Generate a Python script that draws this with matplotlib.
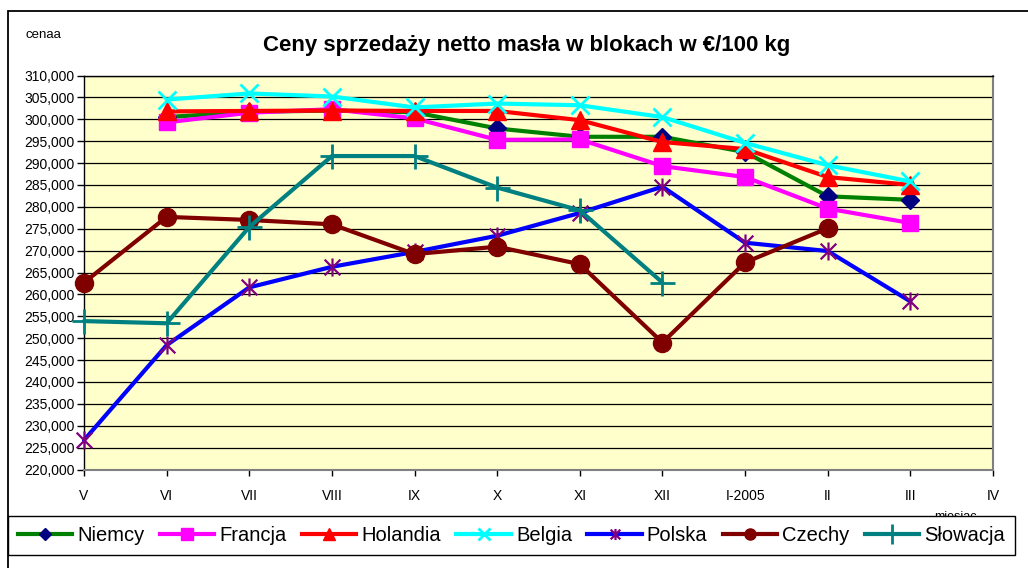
import numpy as np
import matplotlib
matplotlib.use("Agg")
import matplotlib.pyplot as plt
from matplotlib.lines import Line2D
from matplotlib.path import Path
from matplotlib.patches import Rectangle

plt.rcParams['font.family'] = ['Liberation Sans', 'DejaVu Sans']

nan = np.nan
months = ["V", "VI", "VII", "VIII", "IX", "X", "XI", "XII", "I-2005", "II", "III", "IV"]

niemcy   = [nan, 300.5, 301.7, 302.0, 301.6, 297.9, 296.0, 296.0, 292.5, 282.4, 281.6, nan]
francja  = [nan, 299.3, 301.5, 302.3, 300.2, 295.3, 295.4, 289.3, 286.8, 279.6, 276.3, nan]
holandia = [nan, 301.8, 301.9, 302.0, 301.9, 301.9, 299.8, 294.8, 293.2, 286.8, 285.0, nan]
belgia   = [nan, 304.5, 305.9, 305.2, 302.7, 303.6, 303.2, 300.5, 294.6, 289.5, 285.8, nan]
polska   = [226.7, 248.4, 261.6, 266.3, 269.7, 273.4, 278.6, 284.6, 271.8, 269.9, 258.4, nan]
czechy   = [262.7, 277.7, 277.0, 276.0, 269.2, 270.9, 266.9, 249.0, 267.3, 275.1, nan, nan]
slowacja = [253.9, 253.4, 275.4, 291.6, 291.6, 284.4, 279.2, 262.7, nan, nan, nan, nan]

series_names = ["Niemcy", "Francja", "Holandia", "Belgia", "Polska", "Czechy", "Słowacja"]
series_values = [niemcy, francja, holandia, belgia, polska, czechy, slowacja]

ymin, ymax, ystep = 220, 310, 5

# asterisk marker: x plus vertical bar
ast = Path([(-1, -1), (1, 1), (-1, 1), (1, -1), (0, -1.15), (0, 1.15)],
           [Path.MOVETO, Path.LINETO, Path.MOVETO, Path.LINETO, Path.MOVETO, Path.LINETO])

styles = [
    dict(color='#008000', marker='D', mfc='#000080', mec='#000080', ms=9, mew=1, lms=6),
    dict(color='#FF00FF', marker='s', mfc='#FF00FF', mec='#FF00FF', ms=12, mew=1, lms=8),
    dict(color='#FF0000', marker='^', mfc='#FF0000', mec='#FF0000', ms=13, mew=1, lms=9),
    dict(color='#00FFFF', marker='x', mfc='none', mec='#00FFFF', ms=13, mew=2, lms=9),
    dict(color='#0000FF', marker=ast, mfc='none', mec='#800080', ms=13, mew=1.6, lms=8),
    dict(color='#800000', marker='o', mfc='#800000', mec='#800000', ms=13, mew=1, lms=8),
    dict(color='#008080', marker='+', mfc='none', mec='#008080', ms=18, mew=2, lms=14),
]

fig = plt.figure(figsize=(10.28, 5.68), dpi=100)
W, H = 1028, 568
ax = fig.add_axes([84 / W, 1 - 469.5 / H, (993 - 84) / W, (469.5 - 75.5) / H])
ax.set_facecolor('#FFFFCC')

x = np.arange(len(months))
handles = []
for i, (name, vals, st) in enumerate(zip(series_names, series_values, styles)):
    v = np.asarray(vals, float)
    ok = ~np.isnan(v)
    xs, ys = x[ok], v[ok]
    z = 3 + i * 0.1
    ax.plot(xs, ys, color=st['color'], lw=3, solid_capstyle='round', solid_joinstyle='round',
            zorder=z, clip_on=False)
    ax.plot(xs, ys, linestyle='none', marker=st['marker'], markersize=st['ms'],
            markerfacecolor=st['mfc'], markeredgecolor=st['mec'], markeredgewidth=st['mew'],
            zorder=z + 0.05, clip_on=False)
    handles.append(Line2D([], [], color=st['color'], lw=3, marker=st['marker'], markersize=st['lms'],
                          markerfacecolor=st['mfc'], markeredgecolor=st['mec'],
                          markeredgewidth=st['mew']))

ax.set_xlim(0, len(months) - 1)
ax.set_ylim(ymin, ymax)
ax.set_xticks(x)
ax.set_xticklabels(months, fontsize=10)
yt = np.arange(ymin, ymax + 0.1, ystep)
ax.set_yticks(yt)
ax.set_yticklabels([f"{v:.3f}".replace('.', ',') for v in yt], fontsize=10)
ax.tick_params(axis='x', length=4, width=1, pad=10, color='black')
ax.tick_params(axis='y', length=5, width=1, pad=2, color='black')
ax.grid(axis='y', color='black', lw=0.9, zorder=1)
ax.set_axisbelow(True)
for s in ['left', 'top']:
    ax.spines[s].set_color('black')
    ax.spines[s].set_linewidth(1)
ax.spines['right'].set_color('#808080')
ax.spines['right'].set_linewidth(1.5)
ax.spines['bottom'].set_color('#808080')
ax.spines['bottom'].set_linewidth(1.5)

# outer chart frame
fig.patches.append(Rectangle((8 / W, -0.1), 1.2, 1 - 11 / H + 0.1, transform=fig.transFigure,
                             fill=False, edgecolor='black', lw=1.3, zorder=0))

fig.text(527 / W, 1 - 45 / H, "Ceny sprzedaży netto masła w blokach w €/100 kg",
         ha='center', va='center', fontsize=16, fontweight='bold')
fig.text(25 / W, 1 - 35 / H, "cenaa", ha='left', va='center', fontsize=9.5)
fig.text(955 / W, 1 - 517 / H, "miesiac", ha='center', va='center', fontsize=9, zorder=1)

leg = fig.legend(handles, series_names, loc='lower left',
                 bbox_to_anchor=(8 / W, 1 - 555 / H, (1015 - 8) / W, (555 - 517) / H),
                 mode='expand', ncol=7, fontsize=14.5, frameon=True, fancybox=False,
                 edgecolor='black', facecolor='white', framealpha=1, borderaxespad=0,
                 handlelength=2.7, handletextpad=0.25, borderpad=0.5, numpoints=1)
leg.get_frame().set_linewidth(1)
leg.set_zorder(10)

fig.savefig("out.png", dpi=100)
